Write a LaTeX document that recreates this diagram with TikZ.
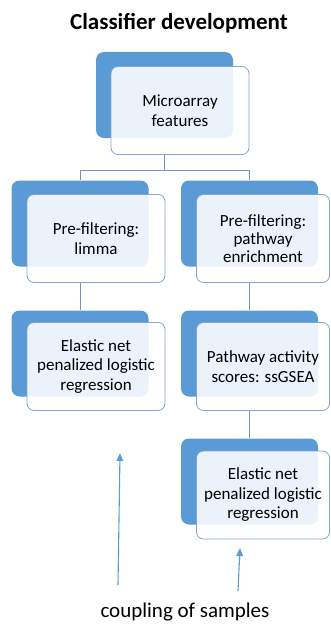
\documentclass[tikz,border=0pt]{standalone}
\usepackage{fontspec}
\setmainfont{Carlito}
\usetikzlibrary{arrows.meta}
\definecolor{boxblue}{HTML}{5B9BD5}
\definecolor{edgeblue}{HTML}{7FA6D3}
\definecolor{linkblue}{HTML}{7096C4}
\tikzset{
  backbox/.style={fill=boxblue, rounded corners=8pt, minimum width=137pt,
    minimum height=86pt, inner sep=0pt},
  frontbox/.style={draw=edgeblue, line width=0.8pt, fill=white, fill opacity=0.88,
    text opacity=1, rounded corners=7pt, minimum width=138pt, minimum height=88pt,
    inner sep=0pt, align=center, font=\fontsize{17}{19.5}\selectfont},
  narrowbox/.style={frontbox, minimum width=133pt},
  link/.style={draw=linkblue, line width=0.8pt},
  uparrow/.style={draw=boxblue, line width=1.1pt,
    -{Triangle[length=8pt, width=6.5pt]}}
}
\begin{document}
\begin{tikzpicture}[x=1pt, y=-1pt]
\useasboundingbox (0,0) rectangle (331,626);

\node[font=\bfseries\fontsize{23}{26}\selectfont, anchor=base] (title) at (179,30)
  {Classifier development};

% back plates
\node[backbox] (bM)  at (164.5,95)  {};
\node[backbox] (bL1) at (80,223.5)  {};
\node[backbox] (bR1) at (249.5,223.5) {};
\node[backbox] (bL2) at (80,353.5)  {};
\node[backbox] (bR2) at (249.5,353.5) {};
\node[backbox] (bR3) at (249.5,481.5) {};

% connectors between the stages
\draw[link] (bM.center |- 0,155) coordinate (mfoot) -- (bM.center |- 0,170) coordinate (split);
\draw[link] (split) -| (bL1.north);
\draw[link] (split) -| (bR1.north);
\draw[link] (bL1.center |- 0,283) -- (bL2.north);
\draw[link] (bR1.center |- 0,283) -- (bR2.north);
\draw[link] (bR2.center |- 0,410) -- (bR3.north);

% front cards with the labels
\node[frontbox] (fM)  at (180,110.5) {Microarray\\features};
\node[frontbox] (fL1) at (96,238.5)  {Pre-filtering:\\limma};
\node[narrowbox, font=\fontsize{17}{18}\selectfont] (fR1) at (263,238.5)
  {Pre-filtering:\\pathway\\enrichment};
\node[frontbox] (fL2) at (96,366.5)  {Elastic net\\penalized logistic\\regression};
\node[narrowbox] (fR2) at (263,366.5) {Pathway activity\\scores: ssGSEA};
\node[narrowbox] (fR3) at (263,495)   {Elastic net\\penalized logistic\\regression};

% sample coupling arrows
\node[font=\fontsize{21}{24}\selectfont, anchor=base] (coupling) at (185,617)
  {coupling of samples};
\coordinate (aL0) at (118,585);
\coordinate (aL1) at (120,453);
\coordinate (aR0) at (238,591);
\coordinate (aR1) at (240,548);
\draw[uparrow] (aL0) -- (aL1);
\draw[uparrow] (aR0) -- (aR1);
\end{tikzpicture}
\end{document}
